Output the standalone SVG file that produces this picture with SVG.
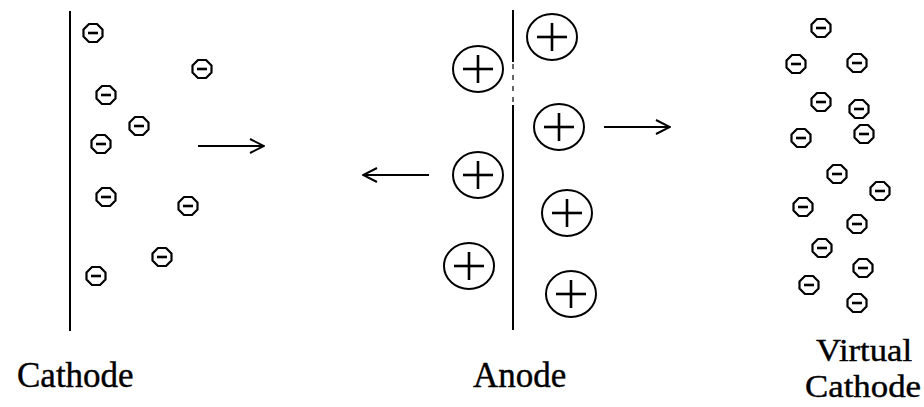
<svg xmlns="http://www.w3.org/2000/svg" width="924" height="407" viewBox="0 0 924 407">
<style>
.plate{stroke:#000;stroke-width:2;fill:none}
.faint{stroke:#000;stroke-width:1.2;stroke-dasharray:5 6;fill:none}
.conn{stroke:#000;stroke-width:2;fill:none}
.lbl{font-family:"Liberation Serif","Times New Roman",serif;font-size:35px;fill:#000;stroke:#000;stroke-width:0.4}
.lbl2{font-size:32px}
</style>
<defs>
<marker id="ah" viewBox="0 0 16 16" refX="15" refY="8" markerWidth="16" markerHeight="16" markerUnits="userSpaceOnUse" orient="auto">
<path d="M1,1 L15,8 L1,15" fill="none" stroke="#000" stroke-width="2"/>
</marker>
<g id="e">
<polygon points="-4,-9 4,-9 9.5,-3.5 9.5,3.5 4,9 -4,9 -9.5,3.5 -9.5,-3.5" fill="#fff" stroke="#000" stroke-width="2.2" stroke-linejoin="round"/>
<line x1="-5" y1="0" x2="5" y2="0" stroke="#000" stroke-width="2.6"/>
</g>
<g id="p">
<ellipse cx="0" cy="0" rx="25" ry="23" fill="#fff" stroke="#000" stroke-width="2"/>
<line x1="-15" y1="0" x2="15" y2="0" stroke="#000" stroke-width="2.6"/>
<line x1="0" y1="-14" x2="0" y2="14" stroke="#000" stroke-width="2.6"/>
</g>
</defs>

<g id="cathode">
<line class="plate" x1="70" y1="11" x2="70" y2="331"/>
<use href="#e" x="93" y="33"/>
<use href="#e" x="202" y="69"/>
<use href="#e" x="106" y="95"/>
<use href="#e" x="139" y="126"/>
<use href="#e" x="101" y="144"/>
<use href="#e" x="106" y="197"/>
<use href="#e" x="188" y="206"/>
<use href="#e" x="162" y="257"/>
<use href="#e" x="96" y="276"/>
<text class="lbl" x="17" y="387">Cathode</text>
</g>

<g id="anode">
<line class="plate" x1="513" y1="10" x2="513" y2="62"/>
<line class="faint" x1="513" y1="64" x2="513" y2="104"/>
<line class="plate" x1="513" y1="105" x2="513" y2="330"/>
<use href="#p" x="552" y="37"/>
<use href="#p" x="478" y="69"/>
<use href="#p" x="559" y="127"/>
<use href="#p" x="478" y="175"/>
<use href="#p" x="567" y="213"/>
<use href="#p" x="469" y="266"/>
<use href="#p" x="571" y="294"/>
<text class="lbl" x="473" y="387">Anode</text>
</g>

<g id="virtual-cathode">
<use href="#e" x="821" y="28"/>
<use href="#e" x="796" y="64"/>
<use href="#e" x="857" y="63"/>
<use href="#e" x="821" y="102"/>
<use href="#e" x="859" y="109"/>
<use href="#e" x="801" y="138"/>
<use href="#e" x="864" y="134"/>
<use href="#e" x="837" y="174"/>
<use href="#e" x="880" y="191"/>
<use href="#e" x="803" y="207"/>
<use href="#e" x="857" y="224"/>
<use href="#e" x="822" y="248"/>
<use href="#e" x="863" y="268"/>
<use href="#e" x="809" y="285"/>
<use href="#e" x="857" y="303"/>
<text class="lbl lbl2" x="816" y="361" textLength="96" lengthAdjust="spacingAndGlyphs">Virtual</text>
<text class="lbl lbl2" x="805" y="397" textLength="116" lengthAdjust="spacingAndGlyphs">Cathode</text>
</g>

<g id="connectors">
<line class="conn" x1="198" y1="146" x2="264" y2="146" marker-end="url(#ah)"/>
<line class="conn" x1="429" y1="175" x2="363" y2="175" marker-end="url(#ah)"/>
<line class="conn" x1="604" y1="127" x2="670" y2="127" marker-end="url(#ah)"/>
</g>
</svg>
